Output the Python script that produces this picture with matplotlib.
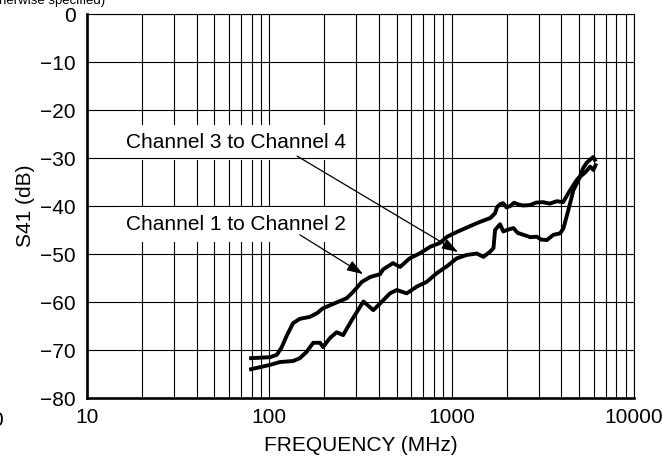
import matplotlib
matplotlib.use('Agg')
import matplotlib.pyplot as plt
from matplotlib.ticker import FixedLocator, NullFormatter

plt.rcParams['font.family'] = ['Liberation Sans', 'DejaVu Sans']
plt.rcParams['font.size'] = 15

# Channel 1 to Channel 2 (upper curve)
f12 = [79.4, 100.9, 110, 117, 125, 135, 147, 167, 183, 197, 224, 266, 288, 322,
       357, 405, 421, 477, 521, 589, 666, 762, 862, 944, 1069, 1260, 1432, 1630,
       1730, 1774, 1850, 1915, 2000, 2095, 2200, 2292, 2450, 2692, 2900, 3170,
       3450, 3780, 4083, 4465, 4850, 5060, 5260, 5500, 5970, 6100]
s12 = [-71.7, -71.5, -71.0, -69.4, -66.9, -64.4, -63.5, -63.1, -62.3, -61.3,
       -60.4, -59.2, -57.9, -55.8, -54.8, -54.2, -53.2, -51.9, -52.7, -50.9,
       -49.9, -48.5, -47.7, -46.4, -45.4, -44.2, -43.3, -42.5, -41.5, -40.2,
       -39.6, -39.4, -40.3, -40.0, -39.3, -39.6, -39.9, -39.8, -39.3, -39.2,
       -39.5, -39.0, -39.2, -36.7, -34.6, -33.8, -32.1, -31.0, -29.8, -30.4]

# Channel 3 to Channel 4 (lower curve)
f34 = [79.4, 100.9, 114.5, 135, 147, 160, 174, 190, 197, 215, 234, 254, 283,
       328, 372, 405, 459, 500, 567, 643, 730, 828, 939, 1066, 1210, 1373, 1494,
       1625, 1695, 1730, 1843, 1920, 2006, 2182, 2300, 2474, 2700, 2929, 3100,
       3324, 3616, 3934, 4105, 4368, 4654, 5063, 5400, 5745, 5985, 6150]
s34 = [-74.0, -73.1, -72.5, -72.3, -71.7, -70.4, -68.5, -68.5, -69.4, -67.5,
       -66.3, -66.9, -63.8, -59.9, -61.7, -60.3, -58.2, -57.5, -58.2, -56.8,
       -55.8, -54.0, -52.6, -50.9, -50.2, -49.9, -50.6, -49.5, -48.8, -45.0,
       -43.8, -45.3, -45.0, -44.6, -45.6, -46.0, -46.5, -46.4, -47.0, -47.1,
       -46.0, -45.7, -44.6, -40.8, -36.7, -33.9, -33.0, -31.8, -32.5, -31.5]

xticks = [10, 100, 1000, 10000]
yticks = [0, -10, -20, -30, -40, -50, -60, -70, -80]
minor_x = [m * d for d in (10, 100, 1000) for m in range(2, 10)]

fig = plt.figure(figsize=(6.63, 4.66), dpi=100)
ax = fig.add_axes([87 / 663, 1 - 398 / 466, (634 - 87) / 663, (398 - 14) / 466])

ax.plot(f12, s12, color='black', lw=2.8, solid_joinstyle='round', zorder=4)
ax.plot(f34, s34, color='black', lw=2.8, solid_joinstyle='round', zorder=4)

ax.set_xscale('log')
ax.set_xlim(10, 10000)
ax.set_ylim(-80, 0)
ax.xaxis.set_major_locator(FixedLocator(xticks))
ax.xaxis.set_minor_locator(FixedLocator(minor_x))
ax.xaxis.set_minor_formatter(NullFormatter())
ax.set_xticklabels([str(t) for t in xticks])
ax.set_yticks(yticks)
ax.set_yticklabels([('\u2212' + str(-t)) if t < 0 else str(t) for t in yticks])

ax.grid(True, which='both', axis='x', color='black', lw=0.8)
ax.grid(True, which='major', axis='y', color='black', lw=0.8)
ax.xaxis.set_zorder(1)
ax.yaxis.set_zorder(2.5)

ax.tick_params(axis='both', which='both', length=0)
ax.tick_params(axis='x', pad=7)
ax.tick_params(axis='y', pad=8)

for s in ('left', 'bottom'):
    ax.spines[s].set_linewidth(1.9)
for s in ('top', 'right'):
    ax.spines[s].set_linewidth(0.8)

ax.set_xlabel('FREQUENCY (MHz)', labelpad=7)
ax.set_ylabel('S41 (dB)', labelpad=4)

box = dict(boxstyle='square,pad=0.4', fc='white', ec='none')
ax.text(65.5, -27.9, 'Channel 3 to Channel 4', ha='center', va='baseline',
        bbox=box, zorder=2)
ax.text(65.5, -45.0, 'Channel 1 to Channel 2', ha='center', va='baseline',
        bbox=box, zorder=3)

arrow = dict(arrowstyle='-|>,head_length=0.9,head_width=0.3', color='black',
             lw=0.9, mutation_scale=11, shrinkA=0, shrinkB=0)
ax.annotate('', xy=(1084, -49.6), xytext=(142, -29.6), arrowprops=arrow, zorder=5)
ax.annotate('', xy=(327, -54.2), xytext=(147, -46.0), arrowprops=arrow, zorder=5)

# fragments of neighbouring content at the page edges
fig.text(105 / 663, 1 - 4 / 466, 'otherwise specified)', ha='right', va='baseline',
         fontsize=9.5)
fig.text(3 / 663, 1 - 426 / 466, '0', ha='right', va='baseline')

fig.savefig('out.png', dpi=100)
